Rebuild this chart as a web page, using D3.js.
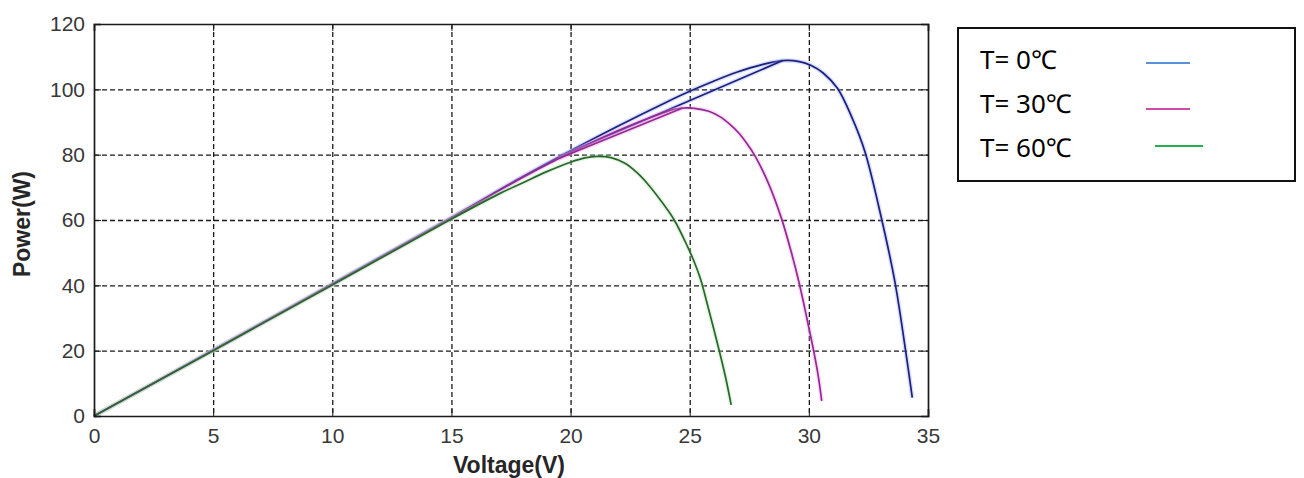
<!DOCTYPE html>
<html>
<head>
<meta charset="utf-8">
<script src="https://cdn.jsdelivr.net/npm/d3@7"></script>
<style>
  body { margin: 0; background: #fff; }
  .axis text { font-family: "Liberation Sans", Arial, sans-serif; font-size: 21px; fill: #383838; }
  .axis path, .axis line { stroke: #1a1a1a; }
  .grid line { stroke: #1a1a1a; stroke-dasharray: 5,3; stroke-width: 1.3; }
  .grid path { display: none; }
  .label { font-family: "Liberation Sans", Arial, sans-serif; font-weight: bold; font-size: 23px; fill: #262626; }
  .legend text { font-family: "Noto Sans", "Noto Sans CJK SC", sans-serif; font-size: 26px; fill: #000; }
</style>
</head>
<body>
<div id="chart"></div>
<script>
// P-V curves of the module at three cell temperatures
const xTicks = [0, 5, 10, 15, 20, 25, 30, 35];
const yTicks = [0, 20, 40, 60, 80, 100, 120];

// T = 0 °C
const volt0 = [0, 5, 10, 15, 18, 20, 22, 24, 25, 26, 27, 28, 28.9, 29.6, 30.1, 30.6, 31.2, 31.8, 32.35, 33.0, 33.6, 34.05, 34.34];
const power0 = [0, 20.2, 40.5, 60.8, 73.3, 81.2, 88.8, 96.0, 99.4, 102.5, 105.3, 107.5, 108.8, 108.5, 107.3, 105, 100.3, 91.5, 81, 62, 41.5, 20.5, 5.6];
const retraceVolt0 = [19.5, 28.9];
const retracePower0 = [79.3, 108.8];

// T = 30 °C
const volt30 = [0, 5, 10, 15, 18, 20, 22, 23, 24, 24.6, 25.2, 25.8, 26.3, 26.7, 27.05, 27.4, 27.75, 28.3, 28.85, 29.25, 29.6, 29.9, 30.2, 30.4, 30.54];
const power30 = [0, 20.1, 40.3, 60.6, 73.1, 80.6, 87.4, 90.4, 93.1, 94.2, 94.2, 93.3, 91.5, 89.2, 86.7, 83.4, 79.5, 71.3, 60.5, 50.5, 40.5, 30.5, 20, 12, 4.6];
const retraceVolt30 = [19.5, 24.7];
const retracePower30 = [78.8, 94.3];

// T = 60 °C
const volt60 = [0, 5, 10, 15, 17, 18, 19, 20, 20.6, 21.1, 21.7, 22.3, 22.8, 23.3, 23.8, 24.35, 24.9, 25.2, 25.45, 25.8, 26.24, 26.5, 26.74];
const power60 = [0, 20.0, 40.1, 60.3, 68.0, 71.4, 74.8, 77.7, 79, 79.5, 79.1, 77.3, 74.4, 70.5, 65.8, 60, 52, 47, 42, 32.5, 20, 12, 3.4];

const legendLabels = ["T= 0℃", "T= 30℃", "T= 60℃"];

const zip = (v, p) => v.map((d, i) => ({ v: d, p: p[i] }));

const series = [
    { curve: zip(volt0, power0), retrace: zip(retraceVolt0, retracePower0), color: "#1e1e7e", glow: "#8fa6f0", key: "#5b8fd6" },
    { curve: zip(volt30, power30), retrace: zip(retraceVolt30, retracePower30), color: "#922a92", glow: "#f0a0e8", key: "#d54aa8" },
    { curve: zip(volt60, power60), retrace: null, color: "#2c642d", glow: "#a8e8a8", key: "#22b04e" }
];

const margin = { top: 24, right: 376, bottom: 62, left: 94 },
    width = 1304 - margin.left - margin.right,
    height = 478 - margin.top - margin.bottom;

const x = d3.scaleLinear().domain([0, 35]).range([0, width]);
const y = d3.scaleLinear().domain([0, 120]).range([height, 0]);

const svg = d3.select("#chart").append("svg")
    .attr("width", 1304)
    .attr("height", 478);

const g = svg.append("g")
    .attr("transform", "translate(" + margin.left + "," + margin.top + ")");

// dashed grid
g.append("g")
    .attr("class", "grid")
    .call(d3.axisBottom(x).tickValues(xTicks.slice(1, -1)).tickSize(height).tickFormat(""));
g.append("g")
    .attr("class", "grid")
    .call(d3.axisLeft(y).tickValues(yTicks.slice(1, -1)).tickSize(-width).tickFormat(""));

const line = d3.line()
    .x(d => x(d.v))
    .y(d => y(d.p))
    .curve(d3.curveCatmullRom.alpha(0.5));

series.forEach(s => {
    const paths = s.retrace ? [s.curve, s.retrace] : [s.curve];
    paths.forEach(pts => {
        g.append("path")
            .datum(pts)
            .attr("fill", "none")
            .attr("stroke", s.glow)
            .attr("stroke-opacity", 0.35)
            .attr("stroke-width", 4.5)
            .attr("d", line);
        g.append("path")
            .datum(pts)
            .attr("fill", "none")
            .attr("stroke", s.color)
            .attr("stroke-width", 1.7)
            .attr("d", line);
    });
});

// box and ticks on all four sides
g.append("g")
    .attr("class", "axis")
    .attr("transform", "translate(0," + height + ")")
    .call(d3.axisBottom(x).tickValues(xTicks).tickSize(-7).tickPadding(12))
    .call(a => a.select(".domain").attr("stroke-width", 1.7));
g.append("g")
    .attr("class", "axis")
    .call(d3.axisLeft(y).tickValues(yTicks).tickSize(-7).tickPadding(9))
    .call(a => a.select(".domain").attr("stroke-width", 1.7));
g.append("g")
    .attr("class", "axis")
    .call(d3.axisTop(x).tickValues(xTicks).tickSize(-7).tickFormat(""))
    .call(a => a.select(".domain").attr("stroke-width", 1.7));
g.append("g")
    .attr("class", "axis")
    .attr("transform", "translate(" + width + ",0)")
    .call(d3.axisRight(y).tickValues(yTicks).tickSize(-7).tickFormat(""))
    .call(a => a.select(".domain").attr("stroke-width", 1.7));

// axis titles
svg.append("text")
    .attr("class", "label")
    .attr("x", 509)
    .attr("y", 473)
    .attr("text-anchor", "middle")
    .text("Voltage(V)");
svg.append("text")
    .attr("class", "label")
    .attr("transform", "translate(30,224) rotate(-90)")
    .attr("text-anchor", "middle")
    .text("Power(W)");

// legend box
const legend = svg.append("g").attr("class", "legend");
legend.append("rect")
    .attr("x", 958).attr("y", 28)
    .attr("width", 337).attr("height", 153)
    .attr("fill", "#fff")
    .attr("stroke", "#111")
    .attr("stroke-width", 2);

const keyX = [[1146, 1190], [1146, 1190], [1155, 1203]];
const keyY = [63, 109, 146];
const textY = [69, 113, 157];

legendLabels.forEach((t, i) => {
    legend.append("text")
        .attr("x", 980)
        .attr("y", textY[i])
        .text(t);
    legend.append("line")
        .attr("x1", keyX[i][0]).attr("x2", keyX[i][1])
        .attr("y1", keyY[i]).attr("y2", keyY[i])
        .attr("stroke", series[i].key)
        .attr("stroke-width", 2);
});
</script>
</body>
</html>
